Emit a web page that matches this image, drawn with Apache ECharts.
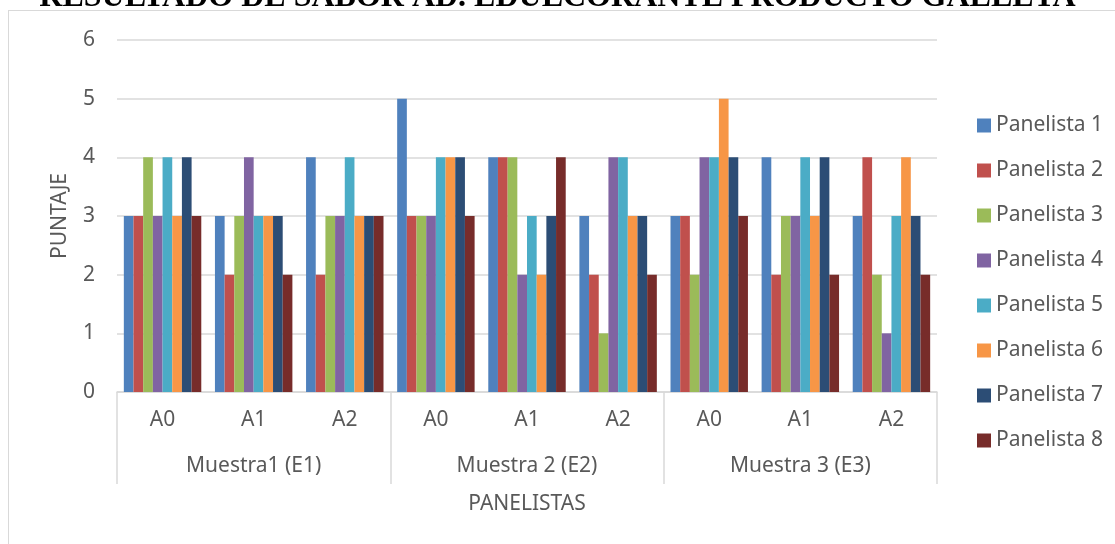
<!DOCTYPE html>
<html>
<head>
<meta charset="utf-8">
<script src="https://cdn.jsdelivr.net/npm/echarts@6/dist/echarts.min.js"></script>
<style>
  html, body { margin: 0; padding: 0; background: #fff; overflow: hidden; }
  #frame { position: absolute; left: 8px; top: 10px; width: 1200px; height: 600px; border: 1.5px solid #d9d9d9; box-sizing: border-box; }
  #chart { position: absolute; left: 0; top: 0; width: 1115px; height: 544px; }
</style>
</head>
<body>
<div id="frame"></div>
<div id="chart"></div>
<script>
// categorias (dos niveles)
var atributos = ['A0', 'A1', 'A2', 'A0', 'A1', 'A2', 'A0', 'A1', 'A2'];
var muestras = ['Muestra1 (E1)', 'Muestra 2 (E2)', 'Muestra 3 (E3)'];
var panelistas = ['Panelista 1', 'Panelista 2', 'Panelista 3', 'Panelista 4',
                  'Panelista 5', 'Panelista 6', 'Panelista 7', 'Panelista 8'];

// puntajes por panelista
var panelista1 = [3, 3, 4, 5, 4, 3, 3, 4, 3];
var panelista2 = [3, 2, 2, 3, 4, 2, 3, 2, 4];
var panelista3 = [4, 3, 3, 3, 4, 1, 2, 3, 2];
var panelista4 = [3, 4, 3, 3, 2, 4, 4, 3, 1];
var panelista5 = [4, 3, 4, 4, 3, 4, 4, 4, 3];
var panelista6 = [3, 3, 3, 4, 2, 3, 5, 3, 4];
var panelista7 = [4, 3, 3, 4, 3, 3, 4, 4, 3];
var panelista8 = [3, 2, 3, 3, 4, 2, 3, 2, 2];

var yTicks = [0, 1, 2, 3, 4, 5, 6];

var valores = [panelista1, panelista2, panelista3, panelista4,
               panelista5, panelista6, panelista7, panelista8];
var colores = ['#4F81BD', '#C0504D', '#9BBB59', '#8064A2',
               '#4BACC6', '#F79646', '#2C4D75', '#772C2A'];

var gris = '#d9d9d9';
var texto = '#595959';
var fuente = 'Noto Sans';

var series = [];
for (var i = 0; i < panelistas.length; i++) {
  series.push({
    name: panelistas[i],
    type: 'bar',
    barGap: 0,
    barCategoryGap: '15%',
    itemStyle: { color: colores[i] },
    data: valores[i]
  });
}

var chart = echarts.init(document.getElementById('chart'));
chart.setOption({
  animation: false,
  backgroundColor: 'transparent',
  textStyle: { fontFamily: fuente },
  title: {
    text: 'RESULTADO DE SABOR AD. EDULCORANTE PRODUCTO GALLETA',
    left: 'center',
    top: -23,
    textStyle: { fontFamily: 'Liberation Serif', fontWeight: 'bold', fontSize: 32, color: '#000' }
  },
  legend: {
    orient: 'vertical',
    left: 972,
    top: 110,
    icon: 'rect',
    itemWidth: 14,
    itemHeight: 14,
    itemGap: 24,
    textStyle: { fontFamily: fuente, fontSize: 21, color: texto },
    data: panelistas
  },
  grid: { left: 117, right: 178, top: 40, bottom: 152 },
  xAxis: [
    {
      type: 'category',
      data: atributos,
      axisLine: { lineStyle: { color: gris, width: 1.5 } },
      axisTick: { show: false },
      axisLabel: { color: texto, fontSize: 21, margin: 18, fontFamily: fuente }
    },
    {
      type: 'category',
      data: muestras,
      position: 'bottom',
      axisLine: { show: false },
      axisTick: { show: true, length: 92, lineStyle: { color: gris, width: 1.5 } },
      axisLabel: { color: texto, fontSize: 21, margin: 64, fontFamily: fuente },
      name: 'PANELISTAS',
      nameLocation: 'middle',
      nameGap: 102,
      nameTextStyle: { color: texto, fontSize: 21, fontFamily: fuente }
    }
  ],
  yAxis: {
    type: 'value',
    min: yTicks[0],
    max: yTicks[yTicks.length - 1],
    interval: 1,
    axisLine: { show: false },
    axisTick: { show: false },
    splitLine: { lineStyle: { color: gris, width: 1.5 } },
    axisLabel: { color: texto, fontSize: 21, margin: 22, fontFamily: fuente },
    name: 'PUNTAJE',
    nameLocation: 'middle',
    nameGap: 46,
    nameTextStyle: { color: texto, fontSize: 21, fontFamily: fuente }
  },
  series: series
});
</script>
</body>
</html>
